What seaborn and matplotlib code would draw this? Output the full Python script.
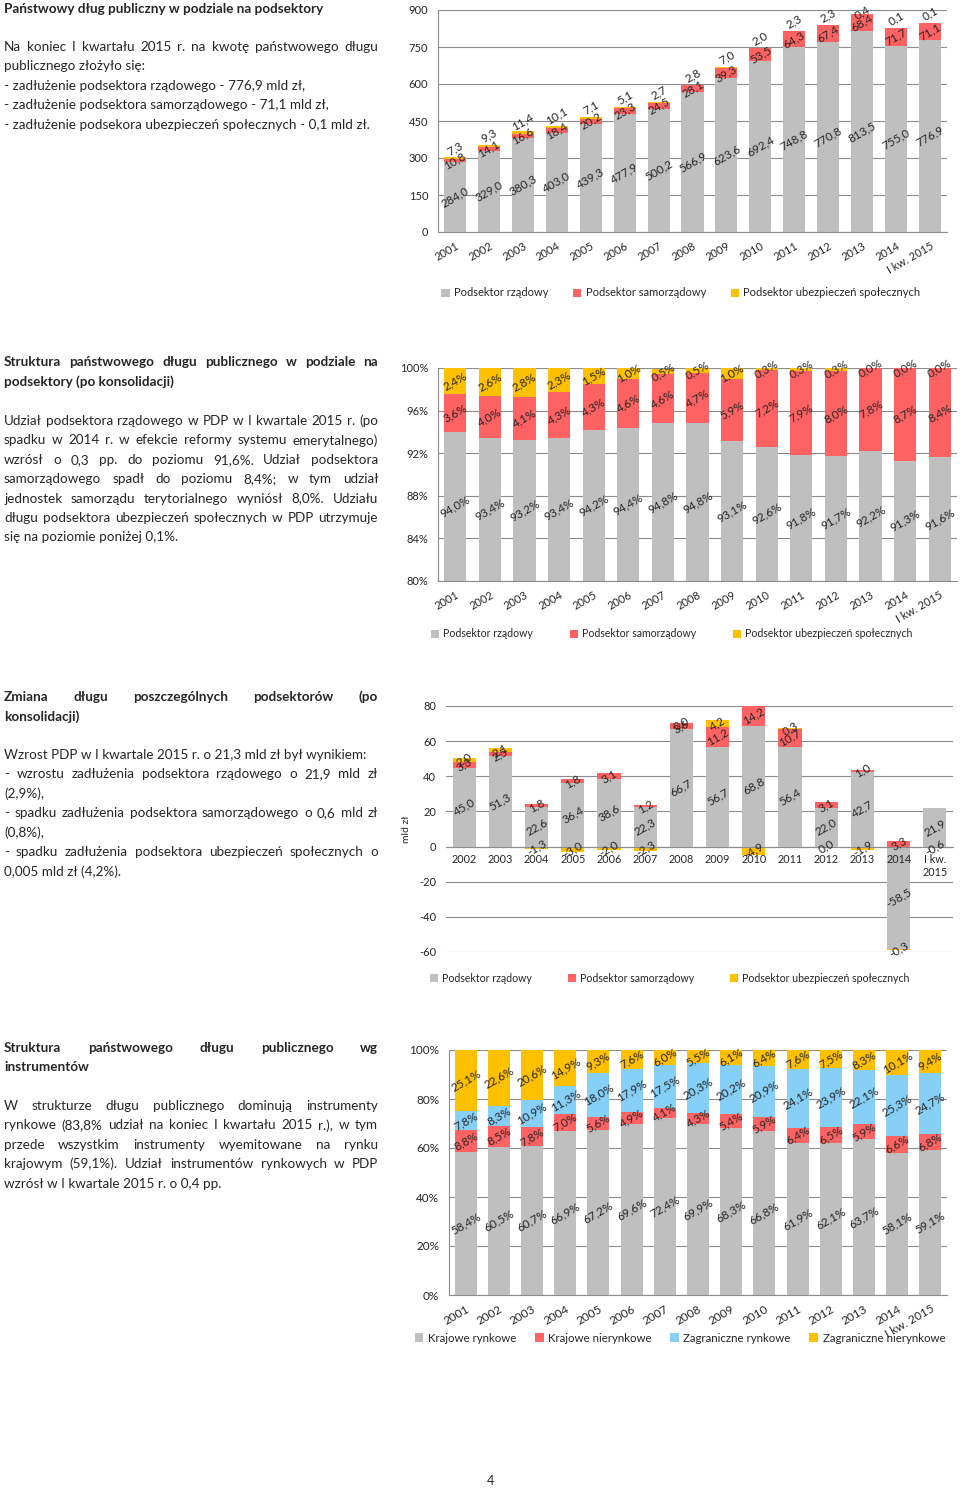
import numpy as np
import matplotlib
matplotlib.use("Agg")
import matplotlib.pyplot as plt
import seaborn as sns
from matplotlib.patches import Patch

W, H = 960, 1488

# --- dane ---
lata = ["2001", "2002", "2003", "2004", "2005", "2006", "2007", "2008",
        "2009", "2010", "2011", "2012", "2013", "2014", "I kw. 2015"]

# wykres 1: dług w mld zł
dlug_rz = [284.0, 329.0, 380.3, 403.0, 439.3, 477.9, 500.2, 566.9, 623.6, 692.4, 748.8, 770.8, 813.5, 755.0, 776.9]
dlug_sam = [10.8, 14.1, 16.6, 18.4, 20.2, 23.3, 24.5, 28.1, 39.3, 53.5, 64.3, 67.4, 68.4, 71.7, 71.1]
dlug_ub = [7.3, 9.3, 11.4, 10.1, 7.1, 5.1, 2.7, 2.8, 7.0, 2.0, 2.3, 2.3, 0.4, 0.1, 0.1]

# wykres 2: struktura w %
udz_rz = [94.0, 93.4, 93.2, 93.4, 94.2, 94.4, 94.8, 94.8, 93.1, 92.6, 91.8, 91.7, 92.2, 91.3, 91.6]
udz_sam = [3.6, 4.0, 4.1, 4.3, 4.3, 4.6, 4.6, 4.7, 5.9, 7.2, 7.9, 8.0, 7.8, 8.7, 8.4]
udz_ub = [2.4, 2.6, 2.8, 2.3, 1.5, 1.0, 0.5, 0.5, 1.0, 0.3, 0.3, 0.3, 0.0, 0.0, 0.0]

# wykres 3: zmiana długu
lata_zm = ["2002", "2003", "2004", "2005", "2006", "2007", "2008", "2009",
           "2010", "2011", "2012", "2013", "2014", "I kw.\n2015"]
zm_rz = [45.0, 51.3, 22.6, 36.4, 38.6, 22.3, 66.7, 56.7, 68.8, 56.4, 22.0, 42.7, -58.5, 21.9]
zm_sam = [3.3, 2.5, 1.8, 1.8, 3.1, 1.2, 3.6, 11.2, 14.2, 10.7, 3.1, 1.0, 3.3, -0.6]
zm_ub = [2.0, 2.1, -1.3, -3.0, -2.0, -2.3, 0.0, 4.2, -4.9, 0.3, -0.0, -1.9, -0.3, np.nan]

# wykres 4: instrumenty
kr_ryn = [58.4, 60.5, 60.7, 66.9, 67.2, 69.6, 72.4, 69.9, 68.3, 66.8, 61.9, 62.1, 63.7, 58.1, 59.1]
kr_nier = [8.8, 8.5, 7.8, 7.0, 5.6, 4.9, 4.1, 4.3, 5.4, 5.9, 6.4, 6.5, 5.9, 6.6, 6.8]
zag_ryn = [7.8, 8.3, 10.9, 11.3, 18.0, 17.9, 17.5, 20.3, 20.2, 20.9, 24.1, 23.9, 22.1, 25.3, 24.7]
zag_nier = [25.1, 22.6, 20.6, 14.9, 9.3, 7.6, 6.0, 5.5, 6.1, 6.4, 7.6, 7.5, 8.3, 10.1, 9.4]

leg_sektory = ["Podsektor rządowy", "Podsektor samorządowy", "Podsektor ubezpieczeń społecznych"]
leg_instr = ["Krajowe rynkowe", "Krajowe nierynkowe", "Zagraniczne rynkowe", "Zagraniczne nierynkowe"]

GREY, RED, YEL, BLUE = "#BFBFBF", "#FF6262", "#FFC000", "#86CFF6"
AXC = "#8C8C8C"

sns.set_style("white")
plt.rcParams["font.family"] = ["Lato", "DejaVu Sans"]
plt.rcParams["axes.unicode_minus"] = False

fig = plt.figure(figsize=(W / 100, H / 100), dpi=100)
renderer = fig.canvas.get_renderer()


def ax_at(l, t, r, b):
    return fig.add_axes([l / W, 1 - b / H, (r - l) / W, (b - t) / H])


def fmt(v, pct=False):
    s = f"{v:.1f}"
    if s == "-0.0":
        s = "0.0"
    s = s.replace(".", ",")
    return s + ("%" if pct else "")


def stacked(ax, cats, series, colors, width, ylim, pct=False, fs=8.5, rot=30):
    n = len(cats)
    pos = np.zeros(n)
    neg = np.zeros(n)
    info = []
    for vals, c in zip(series, colors):
        v = np.array(vals, dtype=float)
        v0 = np.nan_to_num(v)
        isneg = np.signbit(v0)
        bottom = np.where(isneg, neg, pos)
        sns.barplot(x=list(range(n)), y=v0, bottom=bottom, color=c, width=width,
                    errorbar=None, saturation=1, linewidth=0, zorder=2, ax=ax)
        info.append((v, bottom))
        pos = np.where(isneg, pos, pos + v0)
        neg = np.where(isneg, neg + v0, neg)
    ax.set_ylim(*ylim)
    for v, bottom in info:
        for i in range(n):
            if np.isnan(v[i]):
                continue
            lo = max(min(bottom[i], bottom[i] + v[i]), ylim[0])
            hi = min(max(bottom[i], bottom[i] + v[i]), ylim[1])
            ax.text(i, (lo + hi) / 2, fmt(v[i], pct), rotation=rot, fontsize=fs,
                    ha="center", va="center", zorder=5)
    return info


def style(ax, cats, yticks, ylabels, rotate=True, fs=8):
    n = len(cats)
    ax.set_xlim(-0.5, n - 0.5)
    ax.set_yticks(yticks)
    ax.set_yticklabels(ylabels, fontsize=fs)
    ax.set_xticks(range(n))
    if rotate:
        ax.set_xticklabels(cats, rotation=30, ha="right", rotation_mode="anchor", fontsize=fs)
    else:
        ax.set_xticklabels([])
    ax.set_xticks(np.arange(-0.5, n, 1), minor=True)
    ax.tick_params(axis="x", which="major", length=0, pad=6)
    ax.tick_params(axis="x", which="minor", length=4, color=AXC, width=0.8)
    ax.tick_params(axis="y", length=4, color=AXC, width=0.8, pad=3)
    ax.yaxis.grid(True, color=AXC, linewidth=0.8, zorder=0)
    ax.set_axisbelow(True)
    for s in ["top", "right"]:
        ax.spines[s].set_visible(False)
    for s in ["left", "bottom"]:
        ax.spines[s].set_color(AXC)
        ax.spines[s].set_linewidth(0.8)
    ax.set_xlabel("")
    ax.set_ylabel("")


def legenda(ax, labels, colors, cx, cy, fs=8, colsp=2.0):
    h = [Patch(facecolor=c, edgecolor="none") for c in colors]
    ax.legend(h, labels, loc="center", bbox_to_anchor=(cx / W, 1 - cy / H),
              bbox_transform=fig.transFigure, ncol=len(labels), frameon=False,
              fontsize=fs, handlelength=0.75, handleheight=0.75, handletextpad=0.4,
              columnspacing=colsp, borderaxespad=0, borderpad=0)


def para(lines, y0, x0=4, x1=378, step=19.4, bold=False, size=9.7):
    for k, (txt, just) in enumerate(lines):
        yy = 1 - (y0 + k * step) / H
        kw = dict(fontsize=size, va="center_baseline", ha="left",
                  fontweight="bold" if bold else "normal")
        if not just:
            fig.text(x0 / W, yy, txt, **kw)
            continue
        words = txt.split()
        arts = [fig.text(0, yy, w, **kw) for w in words]
        widths = [a.get_window_extent(renderer).width for a in arts]
        gap = (x1 - x0 - sum(widths)) / (len(words) - 1)
        x = x0
        for a, wd in zip(arts, widths):
            a.set_x(x / W)
            x += wd + gap


# --- wykres 1 ---
ax1 = ax_at(438, 10, 947, 232)
stacked(ax1, lata, [dlug_rz, dlug_sam], [GREY, RED], 0.65, (0, 900))
top1 = np.add(dlug_rz, dlug_sam)
sns.barplot(x=list(range(15)), y=dlug_ub, bottom=top1, color=YEL,
            width=0.65, errorbar=None, saturation=1, linewidth=0, zorder=2, ax=ax1)
for i, v in enumerate(dlug_ub):
    ax1.text(i, min(top1[i] + v + 38, 888), fmt(v), rotation=30, fontsize=8.5,
             ha="center", va="center", zorder=5)
style(ax1, lata, np.arange(0, 901, 150), [str(t) for t in range(0, 901, 150)])
legenda(ax1, leg_sektory, [GREY, RED, YEL], 681, 293, fs=8, colsp=2.2)

# --- wykres 2 ---
ax2 = ax_at(438, 368, 957, 581)
stacked(ax2, lata, [udz_rz, udz_sam, udz_ub], [GREY, RED, YEL], 0.64, (80, 100), pct=True)
style(ax2, lata, np.arange(80, 101, 4), [f"{t}%" for t in range(80, 101, 4)])
legenda(ax2, leg_sektory, [GREY, RED, YEL], 672, 634, fs=7.6, colsp=3.5)

# --- wykres 3 ---
ax3 = ax_at(446, 706, 953, 952)
stacked(ax3, lata_zm, [zm_rz, zm_sam, zm_ub], [GREY, RED, YEL], 0.64, (-60, 80))
style(ax3, lata_zm, np.arange(-60, 81, 20), [str(t) for t in range(-60, 81, 20)], rotate=False)
ax3.spines["bottom"].set_position(("data", 0))
ax3.spines["left"].set_visible(False)
for i, lab in enumerate(lata_zm):
    ax3.annotate(lab, (i, 0), xytext=(0, -5), textcoords="offset points",
                 ha="center", va="top", fontsize=7.8, linespacing=1.25, zorder=6)
ax3.set_ylabel("mld zł", fontsize=7.5, labelpad=6)
legenda(ax3, leg_sektory, [GREY, RED, YEL], 670, 978, fs=7.6, colsp=3.4)

# --- wykres 4 ---
ax4 = ax_at(449, 1050, 947, 1295)
stacked(ax4, lata, [kr_ryn, kr_nier, zag_ryn, zag_nier], [GREY, RED, BLUE, YEL], 0.66, (0, 100), pct=True)
style(ax4, lata, np.arange(0, 101, 20), [f"{t}%" for t in range(0, 101, 20)], fs=8.5)
legenda(ax4, leg_instr, [GREY, RED, BLUE, YEL], 680, 1338, fs=8.3, colsp=1.6)

# --- teksty ---
para([("Państwowy dług publiczny w podziale na podsektory", False)], 8, bold=True)
para([("Na koniec I kwartału 2015 r. na kwotę państwowego długu", True),
      ("publicznego złożyło się:", False),
      ("- zadłużenie podsektora rządowego - 776,9 mld zł,", False),
      ("- zadłużenie podsektora samorządowego - 71,1 mld zł,", False),
      ("- zadłużenie podsekora ubezpieczeń społecznych - 0,1 mld zł.", False)], 46)

para([("Struktura państwowego długu publicznego w podziale na", True),
      ("podsektory (po konsolidacji)", False)], 361, bold=True)
para([("Udział podsektora rządowego w PDP w I kwartale 2015 r. (po", True),
      ("spadku w 2014 r. w efekcie reformy systemu emerytalnego)", True),
      ("wzrósł o 0,3 pp. do poziomu 91,6%. Udział podsektora", True),
      ("samorządowego spadł do poziomu 8,4%; w tym udział", True),
      ("jednostek samorządu terytorialnego wyniósł 8,0%. Udziału", True),
      ("długu podsektora ubezpieczeń społecznych w PDP utrzymuje", True),
      ("się na poziomie poniżej 0,1%.", False)], 420)

para([("Zmiana długu poszczególnych podsektorów (po", True),
      ("konsolidacji)", False)], 696, bold=True)
para([("Wzrost PDP w I kwartale 2015 r. o 21,3 mld zł był wynikiem:", False),
      ("- wzrostu zadłużenia podsektora rządowego o 21,9 mld zł", True),
      ("(2,9%),", False),
      ("- spadku zadłużenia podsektora samorządowego o 0,6 mld zł", True),
      ("(0,8%),", False),
      ("- spadku zadłużenia podsektora ubezpieczeń społecznych o", True),
      ("0,005 mld zł (4,2%).", False)], 754)

para([("Struktura państwowego długu publicznego wg", True),
      ("instrumentów", False)], 1047, bold=True)
para([("W strukturze długu publicznego dominują instrumenty", True),
      ("rynkowe (83,8% udział na koniec I kwartału 2015 r.), w tym", True),
      ("przede wszystkim instrumenty wyemitowane na rynku", True),
      ("krajowym (59,1%). Udział instrumentów rynkowych w PDP", True),
      ("wzrósł w I kwartale 2015 r. o 0,4 pp.", False)], 1105)

fig.text(490 / W, 1 - 1481 / H, "4", fontsize=9, ha="center", va="center")

fig.savefig("out.png", dpi=100)
